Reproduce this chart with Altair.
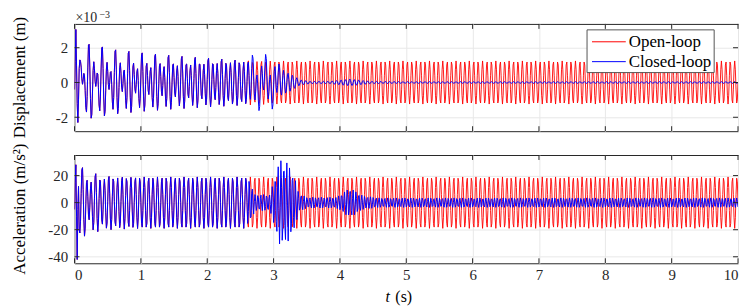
import numpy as np
import pandas as pd
import altair as alt

# ---------------- values ----------------
SAMPLE_DT = 0.01          # s, sampling step of the recorded signals
T_END = 10.0
F_DRIVE = 15.0            # Hz, about 15 cycles per second in the picture
F_START = 10.0            # Hz, start-up transient (beats every ~0.2 s)
F_SWING = 5.0             # Hz, slow swing when the controller switches on
F_CTRL_ACC = 23.0         # Hz, dense closed-loop acceleration band after switch-on
T_SWITCH = 2.62           # s, controller switched on (curves separate here)

# Displacement, in units of 1e-3 m
disp_drive_amp = 1.24
disp_start_t = [0.0, 0.3, 0.6, 1.0, 1.5, 2.0, 2.5, 3.0, 10.0]
disp_start_amp = [1.3, 1.1, 0.8, 0.6, 0.4, 0.25, 0.1, 0.0, 0.0]
disp_first = [-0.4, 1.2, 3.05, 1.0, -1.2, -2.3, -1.0, 0.8, 1.3]
disp_ctrl_t = [2.62, 2.75, 2.9, 3.0, 3.1, 3.2, 3.3, 3.4, 3.55, 3.85, 4.15, 4.45, 5.0, 10.0]
disp_ctrl_amp = [1.24, 1.0, 1.0, 1.0, 0.8, 0.6, 0.4, 0.15, 0.07, 0.07, 0.2, 0.07, 0.05, 0.05]
disp_swing_t = [2.62, 2.7, 2.95, 3.05, 3.15, 10.0]
disp_swing_amp = [0.0, 0.7, 0.7, 0.4, 0.0, 0.0]

# Acceleration, m/s^2
acc_drive_amp = 19.0
acc_start_t = [0.0, 0.15, 0.3, 0.5, 1.0, 10.0]
acc_start_amp = [12.0, 8.0, 4.0, 1.5, 0.0, 0.0]
acc_first = [-5.0, 15.0, 28.0, -10.0, -42.0, -5.0, 12.0, -20.0]
acc_ctrl_t = [2.62, 2.72, 2.95, 3.02, 3.1, 3.2, 3.3, 3.38, 3.5, 3.95, 4.15, 4.35, 4.6, 10.0]
acc_ctrl_amp = [19.0, 6.0, 6.0, 20.0, 32.0, 30.0, 22.0, 7.0, 4.0, 4.0, 11.0, 5.0, 3.5, 3.5]

series_names = ["Open-loop", "Closed-loop"]
series_colors = ["#ff0000", "#0000ff"]
x_ticks = [0, 1, 2, 3, 4, 5, 6, 7, 8, 9, 10]
disp_ticks = [-2, 0, 2]
acc_ticks = [-40, -20, 0, 20]
disp_domain = [-2.8, 3.37]
acc_domain = [-44.8, 35.2]
y_titles = ["Displacement (m)", "Acceleration (m/s²)"]

# ---------------- build the series ----------------
t = np.round(np.arange(0, T_END + SAMPLE_DT / 2, SAMPLE_DT), 4)
w = 2 * np.pi * F_DRIVE * t
after = t >= T_SWITCH

d_open = disp_drive_amp * np.sin(w) + np.interp(t, disp_start_t, disp_start_amp) * np.sin(2 * np.pi * F_START * t + 0.8)
d_open[: len(disp_first)] = disp_first
d_closed = d_open.copy()
d_closed[after] = (np.interp(t, disp_ctrl_t, disp_ctrl_amp) * np.sin(w)
                   + np.interp(t, disp_swing_t, disp_swing_amp) * np.sin(2 * np.pi * F_SWING * (t - T_SWITCH)))[after]

a_open = -acc_drive_amp * np.sin(w) + np.interp(t, acc_start_t, acc_start_amp) * np.sin(2 * np.pi * F_START * t + 0.8)
a_open[: len(acc_first)] = acc_first
a_closed = a_open.copy()
a_closed[after] = (-np.interp(t, acc_ctrl_t, acc_ctrl_amp)
                   * np.sin(2 * np.pi * F_CTRL_ACC * (t - T_SWITCH) + w[after][0] + 0.9))[after]

disp_df = pd.concat([
    pd.DataFrame({"t": t, "v": d_open, "s": series_names[0]}),
    pd.DataFrame({"t": t, "v": d_closed, "s": series_names[1]}),
])
acc_df = pd.concat([
    pd.DataFrame({"t": t, "v": a_open, "s": series_names[0]}),
    pd.DataFrame({"t": t, "v": a_closed, "s": series_names[1]}),
])

# ---------------- chart ----------------
W = 668
H1 = 108
H2 = 109
GAP = 24
FONT = "Liberation Serif, DejaVu Serif, serif"
FRAME = "#262626"
color_scale = alt.Scale(domain=series_names, range=series_colors)
xscale = alt.Scale(domain=[0, 10], nice=False, zero=False)


def panel(df, ydomain, yticks, height, show_x):
    yscale = alt.Scale(domain=ydomain, nice=False, zero=False)
    xaxis = alt.Axis(values=x_ticks, grid=True, labels=show_x, ticks=False, domain=False,
                     title=None, labelPadding=4, format="d", labelOverlap=False,
                     labelFont=FONT, labelFontSize=15, labelColor=FRAME)
    yaxis = alt.Axis(values=yticks, grid=True, ticks=False, domain=False, title=None,
                     labelExpr="'' + datum.value", labelPadding=7, labelOverlap=False,
                     labelFont=FONT, labelFontSize=15, labelColor=FRAME)
    X = lambda f: alt.X(f, scale=xscale, axis=xaxis)
    Y = lambda f: alt.Y(f, scale=yscale, axis=yaxis)
    layers = []
    for name, sw in zip(series_names, [0.9, 1.0]):
        layers.append(
            alt.Chart(df).transform_filter(alt.datum.s == name)
            .mark_line(strokeWidth=sw, clip=True)
            .encode(x=X("t:Q"), y=Y("v:Q"),
                    color=alt.Color("s:N", scale=color_scale, legend=None))
        )
    xt = pd.DataFrame({"t": x_ticks})
    yt = pd.DataFrame({"v": yticks})
    tick = dict(color=FRAME, strokeWidth=1)
    layers += [
        alt.Chart(xt).mark_rule(**tick).encode(x=X("t:Q"), y=alt.value(0), y2=alt.value(5)),
        alt.Chart(xt).mark_rule(**tick).encode(x=X("t:Q"), y=alt.value(height - 5), y2=alt.value(height)),
        alt.Chart(yt).mark_rule(**tick).encode(y=Y("v:Q"), x=alt.value(0), x2=alt.value(5)),
        alt.Chart(yt).mark_rule(**tick).encode(y=Y("v:Q"), x=alt.value(W - 5), x2=alt.value(W)),
    ]
    return layers


top_layers = panel(disp_df, disp_domain, disp_ticks, H1, False)

# legend box (inside the top panel, upper right)
LX0, LX1, LY0, LY1 = 516, 644, 6, 49
top_layers += [
    alt.Chart().mark_rect(fill="white", stroke="#555555", strokeWidth=1).encode(
        x=alt.value(LX0), x2=alt.value(LX1), y=alt.value(LY0), y2=alt.value(LY1)),
]
for k, (name, col) in enumerate(zip(series_names, series_colors)):
    yy = LY0 + 12 + 20 * k
    top_layers += [
        alt.Chart().mark_rule(color=col, strokeWidth=1).encode(
            x=alt.value(LX0 + 5), x2=alt.value(LX0 + 39), y=alt.value(yy)),
        alt.Chart().mark_text(text=name, align="left", baseline="middle", font=FONT, fontSize=17,
                              color="#000000").encode(x=alt.value(LX0 + 42), y=alt.value(yy)),
    ]

top_layers += [
    alt.Chart().mark_text(text="×10", align="left", baseline="alphabetic", font=FONT, fontSize=14,
                          color=FRAME).encode(x=alt.value(1), y=alt.value(-2)),
    alt.Chart().mark_text(text="−3", align="left", baseline="alphabetic", font=FONT, fontSize=10,
                          color=FRAME).encode(x=alt.value(25), y=alt.value(-6)),
]
top = alt.layer(*top_layers).properties(width=W, height=H1)

bot_layers = panel(acc_df, acc_domain, acc_ticks, H2, True)
# both y-axis titles, placed in the bottom panel's frame so they share one x
for title, yc in zip(y_titles, [-(GAP + H1) + H1 / 2, H2 / 2]):
    bot_layers.append(
        alt.Chart().mark_text(text=title, angle=270, align="center", baseline="middle", font=FONT,
                              fontSize=17, color="#000000").encode(x=alt.value(-55), y=alt.value(yc))
    )
bot_layers += [
    alt.Chart().mark_text(text="t", align="left", baseline="alphabetic", font=FONT, fontSize=16,
                          fontStyle="italic", color="#000000").encode(x=alt.value(313), y=alt.value(148)),
    alt.Chart().mark_text(text="(s)", align="left", baseline="alphabetic", font=FONT, fontSize=16,
                          color="#000000").encode(x=alt.value(323), y=alt.value(148)),
]
bottom = alt.layer(*bot_layers).properties(width=W, height=H2)

chart = (
    alt.vconcat(top, bottom, spacing=GAP, bounds="flush")
    .properties(padding={"left": 2, "top": 0, "right": 0, "bottom": 0})
    .configure_view(stroke=FRAME, strokeWidth=1)
    .configure_axis(gridColor="#e8e8e8", gridWidth=1)
)

chart.save("out.html", embed_options={"renderer": "svg", "actions": False})
